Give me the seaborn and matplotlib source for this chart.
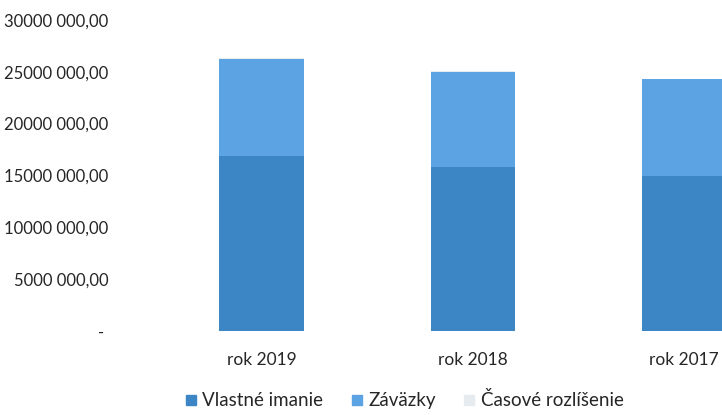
import matplotlib.pyplot as plt
import matplotlib.ticker as mticker
import pandas as pd
import seaborn as sns

# Data
roky = ['rok 2019', 'rok 2018', 'rok 2017']
vlastne_imanie = [16900000, 15800000, 14900000]
zavazky = [9350000, 9200000, 9400000]
casove_rozlisenie = [30000, 30000, 30000]

farby = {'Vlastné imanie': '#3d86c6',
         'Záväzky': '#5ba3e3',
         'Časové rozlíšenie': '#e6ebf0'}

df = pd.DataFrame({'rok': roky, 'vi': vlastne_imanie,
                   'zav': zavazky, 'cas': casove_rozlisenie})
df['vi_zav'] = df['vi'] + df['zav']
df['spolu'] = df['vi_zav'] + df['cas']

sns.set_theme(style='white')
plt.rcParams['font.family'] = ['Lato', 'DejaVu Sans']

fig = plt.figure(figsize=(7.22, 4.15), dpi=100)
ax = fig.add_axes([0.216, 0.2024, 0.784, 0.7496])

# overlay cumulative sums to get the stacked look
for col, name in [('spolu', 'Časové rozlíšenie'), ('vi_zav', 'Záväzky'),
                  ('vi', 'Vlastné imanie')]:
    sns.barplot(data=df, x='rok', y=col, color=farby[name], width=0.4,
                saturation=1, linewidth=0, ax=ax)

ax.set_xlim(-0.5, 2.18)
ax.set_ylim(0, 30000000)
ax.set_yticks(range(0, 30000001, 5000000))


def fmt(v, pos):
    if v == 0:
        return '- '
    return f'{int(v / 1000)} 000,00'


ax.yaxis.set_major_formatter(mticker.FuncFormatter(fmt))
ax.tick_params(axis='y', labelsize=12, pad=34, colors='#262626', length=0)
ax.tick_params(axis='x', labelsize=12.5, pad=15, colors='#262626', length=0)
ax.set_xlabel('')
ax.set_ylabel('')
sns.despine(ax=ax, left=True, bottom=True)

handles = [plt.Line2D([], [], marker='s', linestyle='', markersize=7,
                      color=c, label=n) for n, c in farby.items()]
fig.legend(handles=handles, loc='center', bbox_to_anchor=(0.56, 0.035),
           ncol=3, frameon=False, fontsize=13.5, handlelength=0.6,
           handletextpad=0.3, columnspacing=1.5, labelcolor='#262626')

fig.savefig('out.png', dpi=100)
